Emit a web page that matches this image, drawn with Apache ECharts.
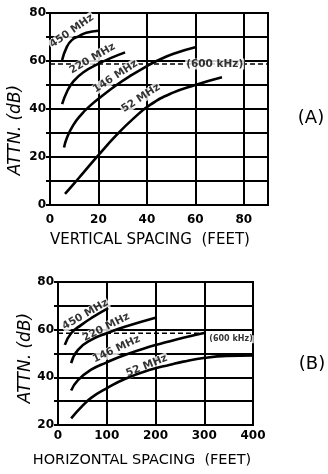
<!DOCTYPE html>
<html>
<head>
<meta charset="utf-8">
<script src="https://cdn.jsdelivr.net/npm/echarts@6/dist/echarts.min.js"></script>
<style>
html,body{margin:0;padding:0;background:#fff;}
#c{width:328px;height:474px;}
</style>
</head>
<body>
<div id="c"></div>
<script>
// ---------- DATA: chart (A) vertical spacing ----------
const aTicksX = [0, 20, 40, 60, 80];
const aTicksY = [0, 20, 40, 60, 80];
const a450X = [5, 7, 9, 12, 15, 20];
const a450Y = [60.4, 66, 68.7, 70.4, 71.8, 72.6];
const a220X = [5, 7, 9.6, 13.8, 20.7, 26, 31];
const a220Y = [42, 47.2, 51.4, 55.3, 59.2, 61.6, 63.6];
const a146X = [5.8, 7, 9.6, 13, 16.5, 20, 27.5, 34, 40, 44, 51, 60];
const a146Y = [24, 28, 33.3, 37.8, 41.3, 44.3, 50, 54.3, 57.9, 60, 63, 65.7];
const a52X = [6.2, 10, 13.8, 20, 27.5, 34.4, 41.3, 50, 60, 71];
const a52Y = [4.6, 9, 13.5, 20.8, 29.2, 36, 41.7, 46.5, 50, 53.2];
const a600X = [0, 90];
const a600Y = [58.7, 58.7];
const aLabels = ['450 MHz', '220 MHz', '146 MHz', '52 MHz', '(600 kHz)'];
const aLabelX = [9, 17.5, 27, 37.5, 68];
const aLabelY = [72.5, 61, 53.5, 44.5, 58.7];

// ---------- DATA: chart (B) horizontal spacing ----------
const bTicksX = [0, 100, 200, 300, 400];
const bTicksY = [20, 40, 60, 80];
const b450X = [14, 27, 48, 68, 103];
const b450Y = [53.6, 58.5, 62, 64.8, 69];
const b220X = [27, 41, 68, 103, 137, 200];
const b220Y = [46, 51.5, 55.7, 58.7, 61.2, 65];
const b146X = [27, 41, 68, 100, 137, 189, 223, 257, 302];
const b146Y = [34.5, 38.8, 43.2, 46.3, 49.4, 52.9, 54.8, 56.6, 58.7];
const b52X = [27, 51, 68, 100, 137, 189, 230, 257, 302, 346, 400];
const b52Y = [22.8, 28.2, 31.4, 35.4, 39.3, 43.2, 45.3, 46.6, 48.2, 49, 49.2];
const b600X = [0, 300];
const b600Y = [58.5, 58.5];
const bLabels = ['450 MHz', '220 MHz', '146 MHz', '52 MHz', '(600 kHz)'];
const bLabelX = [56, 99, 120, 182, 355];
const bLabelY = [66.3, 61, 51.8, 44.8, 56];

// ---------- helpers ----------
const zip = (xs, ys) => xs.map((x, i) => [x, ys[i]]);
const FONT = 'DejaVu Sans';
const BLACK = '#000';

function curve(xs, ys, gi) {
  return {
    type: 'line', xAxisIndex: gi, yAxisIndex: gi, data: zip(xs, ys),
    smooth: 0.5, showSymbol: false, symbol: 'none', z: 5,
    lineStyle: { color: BLACK, width: 2.6 }
  };
}
function dashed(xs, ys, gi) {
  return {
    type: 'line', xAxisIndex: gi, yAxisIndex: gi, data: zip(xs, ys),
    showSymbol: false, symbol: 'none', z: 4,
    lineStyle: { color: BLACK, width: 1.5, type: [5, 3] }
  };
}
function labels(names, xs, ys, rots, sizes, gi) {
  return {
    type: 'scatter', xAxisIndex: gi, yAxisIndex: gi, symbolSize: 1, z: 4,
    itemStyle: { color: 'rgba(0,0,0,0)' },
    data: names.map((n, i) => ({
      name: n, value: [xs[i], ys[i]],
      label: {
        show: true, position: 'inside', formatter: n, rotate: rots[i],
        fontFamily: FONT, fontWeight: 'bold', fontSize: sizes[i], color: BLACK,
        backgroundColor: '#fff', padding: [0, 1]
      }
    }))
  };
}
function xAxisCfg(gi, min, max, interval, ticks, margin) {
  return {
    gridIndex: gi, type: 'value', min: min, max: max, interval: interval,
    axisLine: { show: true, onZero: false, lineStyle: { color: BLACK, width: 2 } },
    axisTick: { show: false },
    splitLine: { show: true, lineStyle: { color: BLACK, width: 2 } },
    axisLabel: {
      formatter: v => ticks.includes(v) ? String(v) : '',
      color: BLACK, fontFamily: FONT, fontWeight: 'bold', fontSize: 12, margin: margin,
      showMaxLabel: true, showMinLabel: true
    }
  };
}
function yAxisCfg(gi, min, max, interval, ticks) {
  return {
    gridIndex: gi, type: 'value', min: min, max: max, interval: interval,
    axisLine: { show: true, onZero: false, lineStyle: { color: BLACK, width: 2 } },
    axisTick: { show: true, length: 4, lineStyle: { color: BLACK, width: 2 } },
    splitLine: { show: true, lineStyle: { color: BLACK, width: 2 } },
    axisLabel: {
      formatter: v => ticks.includes(v) ? String(v) : '',
      color: BLACK, fontFamily: FONT, fontWeight: 'bold', fontSize: 12, margin: 4
    }
  };
}

const chart = echarts.init(document.getElementById('c'), null, { renderer: 'canvas' });
const option = {
  animation: false,
  backgroundColor: '#fff',
  grid: [
    { left: 50, top: 13, width: 218, height: 192, show: true, borderColor: BLACK, borderWidth: 2, backgroundColor: 'transparent' },
    { left: 58, top: 282, width: 195, height: 143, show: true, borderColor: BLACK, borderWidth: 2, backgroundColor: 'transparent' }
  ],
  xAxis: [
    xAxisCfg(0, 0, 90, 20, aTicksX, 9),
    xAxisCfg(1, 0, 400, 100, bTicksX, 5)
  ],
  yAxis: [
    yAxisCfg(0, 0, 80, 10, aTicksY),
    yAxisCfg(1, 20, 80, 10, bTicksY)
  ],
  series: [
    curve(a450X, a450Y, 0), curve(a220X, a220Y, 0), curve(a146X, a146Y, 0), curve(a52X, a52Y, 0),
    dashed(a600X, a600Y, 0),
    labels(aLabels, aLabelX, aLabelY, [35, 30, 33, 33, 0], [10.5, 10.5, 10.5, 10.5, 10.5], 0),
    curve(b450X, b450Y, 1), curve(b220X, b220Y, 1), curve(b146X, b146Y, 1), curve(b52X, b52Y, 1),
    dashed(b600X, b600Y, 1),
    labels(bLabels, bLabelX, bLabelY, [30, 27, 25, 22, 0], [10.5, 10.5, 10.5, 10.5, 8], 1)
  ],
  graphic: [
    { type: 'text', x: 150, y: 240, style: { text: 'VERTICAL SPACING  (FEET)', fontFamily: FONT, fontSize: 15, fill: BLACK, align: 'center', verticalAlign: 'middle' } },
    { type: 'text', x: 16, y: 130, rotation: Math.PI / 2, style: { text: 'ATTN. (dB)', fontFamily: FONT, fontStyle: 'italic', fontSize: 17, fill: BLACK, align: 'center', verticalAlign: 'middle' } },
    { type: 'text', x: 311, y: 118, style: { text: '(A)', fontFamily: FONT, fontSize: 18, fill: BLACK, align: 'center', verticalAlign: 'middle' } },
    { type: 'text', x: 142, y: 460, style: { text: 'HORIZONTAL SPACING  (FEET)', fontFamily: FONT, fontSize: 14.5, fill: BLACK, align: 'center', verticalAlign: 'middle' } },
    { type: 'text', x: 26, y: 358, rotation: Math.PI / 2, style: { text: 'ATTN. (dB)', fontFamily: FONT, fontStyle: 'italic', fontSize: 17, fill: BLACK, align: 'center', verticalAlign: 'middle' } },
    { type: 'text', x: 312, y: 364, style: { text: '(B)', fontFamily: FONT, fontSize: 18, fill: BLACK, align: 'center', verticalAlign: 'middle' } }
  ]
};
chart.setOption(option);
</script>
</body>
</html>
